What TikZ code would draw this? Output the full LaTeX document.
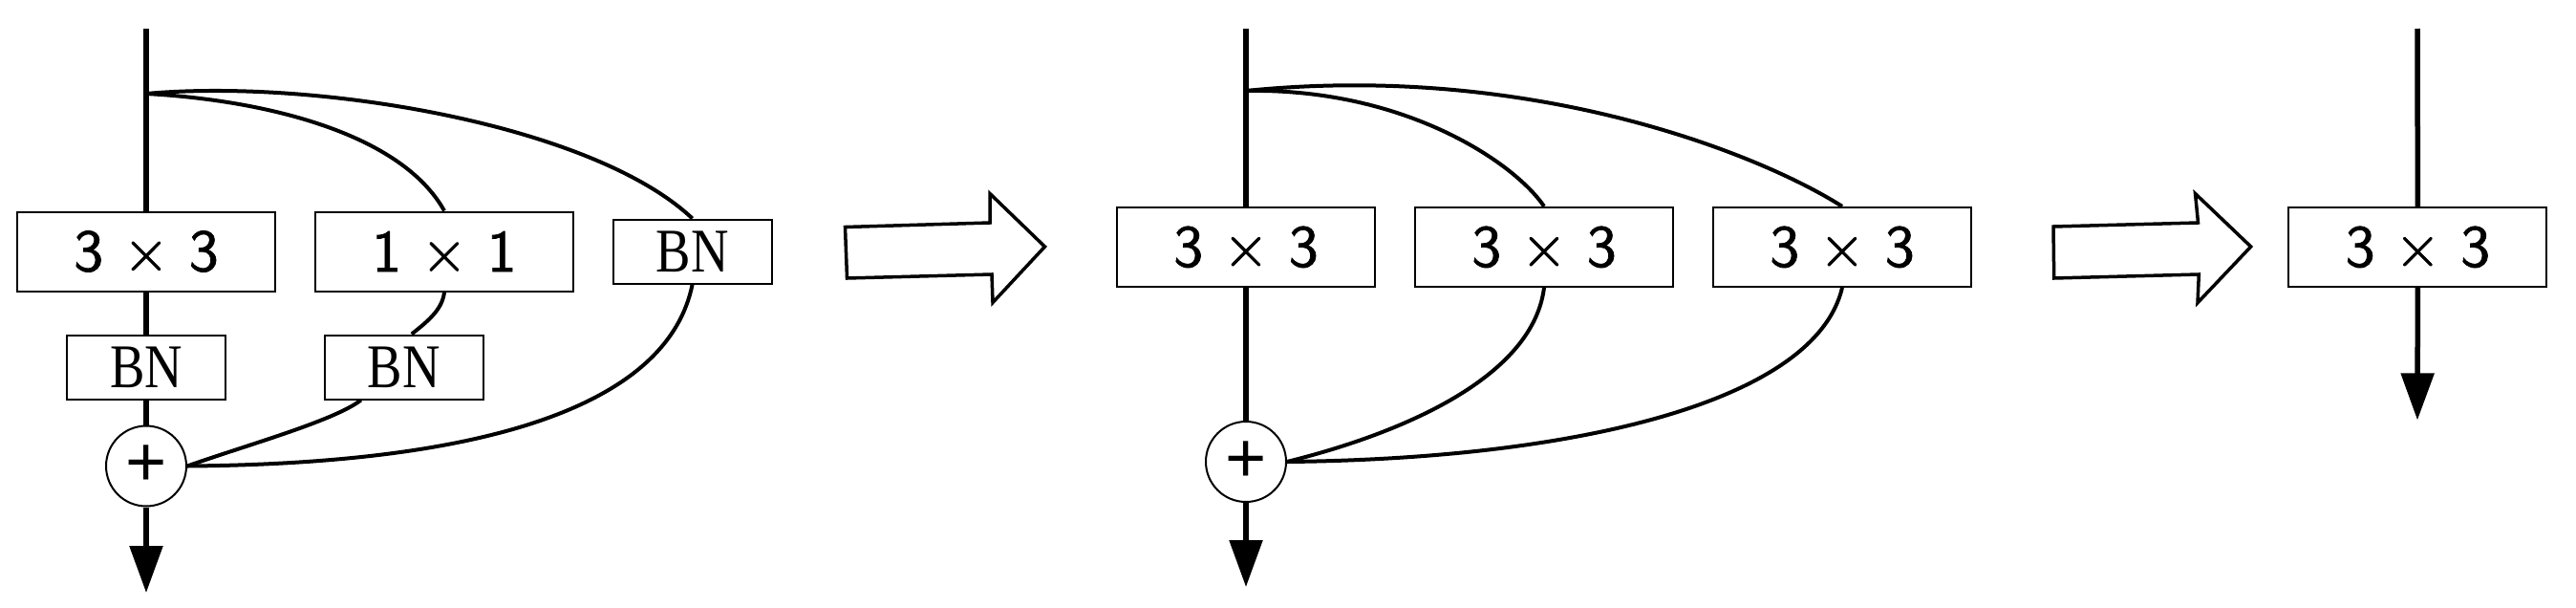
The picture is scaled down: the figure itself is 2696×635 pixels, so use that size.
\documentclass[tikz,border=0pt]{standalone}
\usepackage{fontspec}
\newfontfamily\bnfont{Liberation Serif}
\newfontfamily\plusfont{Liberation Sans}
\newfontfamily\boxfont{lmsans10-regular.otf}[FakeBold=1.2]
\usetikzlibrary{arrows.meta}
\begin{document}
\begin{tikzpicture}[x=1pt,y=-1pt,
  box/.style={draw, line width=2pt, minimum width=270pt, minimum height=83pt, inner sep=0pt,
    font=\fontsize{62}{62}\selectfont\boxfont},
  bnbox/.style={draw, line width=2pt, minimum width=166pt, minimum height=67pt, inner sep=0pt,
    font=\fontsize{65}{65}\selectfont\bnfont},
  addnode/.style={draw, circle, line width=2pt, minimum size=84pt, inner sep=0pt,
    font=\fontsize{74}{74}\selectfont\plusfont},
  mainline/.style={line width=5.5pt},
  curve/.style={line width=4pt},
  tip/.style={-{Triangle[length=49pt,width=34pt]}},
  hollow/.style={line width=3.5pt, line join=miter, fill=white}]
\useasboundingbox (0,0) rectangle (2696,635);

% ---------- panel 1 ----------
\node[box] (b33) at (153,263) {3 × 3};
\node[box] (b11) at (465,263) {1 × 1};
\node[bnbox] (bnR) at (724.6,263) {\scalebox{0.84}[1]{BN}};
\node[bnbox] (bnL) at (153,384) {\scalebox{0.84}[1]{BN}};
\node[bnbox] (bnM) at (422.8,384) {\scalebox{0.84}[1]{BN}};
\node[addnode] (circ1) at (153,487.5) {+};
\coordinate (top1) at (153,30);
\coordinate (br1) at (153,98);
\coordinate (end1) at (153,620);

\draw[mainline] (top1) -- (b33.north);
\draw[mainline] (b33.south) -- (bnL.north);
\draw[mainline] (bnL.south) -- (circ1.north);
\draw[mainline,tip] (circ1.south) -- (end1);

\draw[curve] (br1) .. controls (330,82) and (620,130) .. (bnR.north);
\draw[curve] (br1) .. controls (280,105) and (420,140) .. (b11.north);
\draw[curve] (b11.south) .. controls (463,325) and (445,338) .. ([xshift=8pt]bnM.north);
\draw[curve] ([xshift=-45pt]bnM.south) .. controls (350,440) and (260,465) .. (circ1.east);
\draw[curve] (bnR.south) .. controls (700,420) and (520,485) .. (circ1.east);

% hollow arrow 1
\draw[hollow] (884.5,237.5) -- (1036,233) -- (1036,202.5) -- (1093.5,258) -- (1039,316.5) -- (1038,287) -- (886.5,291) -- cycle;

% ---------- panel 2 ----------
\node[box] (c1) at (1304,258.4) {3 × 3};
\node[box] (c2) at (1616,258.4) {3 × 3};
\node[box] (c3) at (1928,258.4) {3 × 3};
\node[addnode] (circ2) at (1304,483) {+};
\coordinate (top2) at (1304,30);
\coordinate (br2) at (1304,95);
\coordinate (end2) at (1304,614);

\draw[mainline] (top2) -- (c1.north);
\draw[mainline] (c1.south) -- (circ2.north);
\draw[mainline,tip] (circ2.south) -- (end2);

\draw[curve] (br2) .. controls (1600,65) and (1840,160) .. (c3.north);
\draw[curve] (br2) .. controls (1470,92) and (1585,170) .. (c2.north);
\draw[curve] (c2.south) .. controls (1605,390) and (1480,450) .. (circ2.east);
\draw[curve] (c3.south) .. controls (1900,420) and (1650,480) .. (circ2.east);

% hollow arrow 2
\draw[hollow] (2149,237) -- (2300.5,233) -- (2297.5,202.5) -- (2355.7,258) -- (2300,316.7) -- (2301.3,287) -- (2149.7,291) -- cycle;

% ---------- panel 3 ----------
\node[box] (d1) at (2530.4,258.4) {3 × 3};
\coordinate (top3) at (2530,30);
\coordinate (end3) at (2530,439.4);
\draw[mainline] (top3) -- (d1.north);
\draw[mainline,tip] (d1.south) -- (end3);
\end{tikzpicture}
\end{document}
